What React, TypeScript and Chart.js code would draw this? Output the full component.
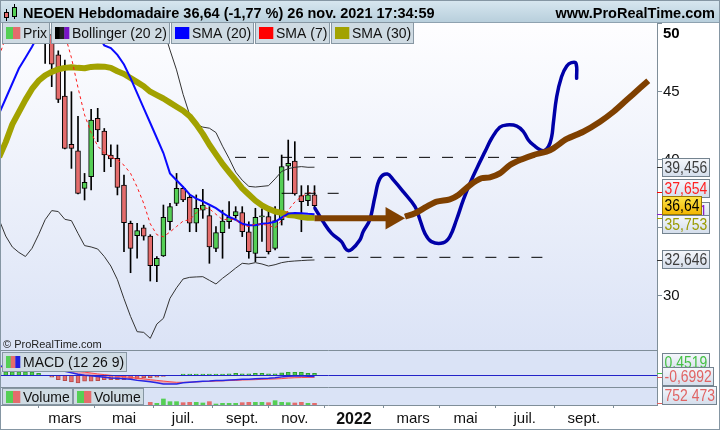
import React, { useEffect, useRef } from "react";
import { Chart, registerables } from "chart.js";

Chart.register(...registerables);

const W = 720;
const H = 430;
const FONT = '"Liberation Sans", Arial, Helvetica, sans-serif';
const NARROW_SCALE = 0.82;

const titleText = "NEOEN Hebdomadaire 36,64 (-1,77 %) 26 nov. 2021 17:34:59";
const siteText = "www.ProRealTime.com";
const copyrightText = "© ProRealTime.com";
const macdLegend = "MACD (12 26 9)";
const volumeLegend = "Volume";

// ---- x axis: week index (0 = week of 4 Jan 2021) ----
const monthTickWeeks = [0, 8, 17, 26, 35, 43, 52, 61, 69, 78, 87, 96];
const monthTickLabels = ["", "mars", "mai", "juil.", "sept.", "nov.", "2022", "mars", "mai", "juil.", "sept.", ""];
const priceTicks = [30, 35, 40, 45, 50];

// ---- weekly candles ----
const candleWeeks = [5, 6, 7, 8, 9, 10, 11, 12, 13, 14, 15, 16, 17, 18, 19, 20, 21, 22, 23, 24, 25, 26, 27, 28, 29, 30, 31, 32, 33, 34, 35, 36, 37, 38, 39, 40, 41, 42, 43, 44, 45, 46];
const opens = [50.5, 49.2, 47.7, 44.68, 41.14, 40.65, 37.9, 38.76, 43.05, 42.11, 40.35, 40.11, 38.15, 35.34, 34.43, 35.0, 34.4, 32.22, 32.94, 35.45, 36.8, 37.9, 37.25, 35.34, 36.31, 35.9, 33.5, 34.65, 35.45, 35.9, 36.13, 34.72, 33.13, 35.8, 35.83, 33.5, 35.58, 39.54, 39.9, 37.37, 37.0, 37.42];
const highs = [51.5, 49.6, 48.0, 47.33, 45.0, 43.2, 39.0, 43.7, 43.78, 42.3, 41.09, 41.09, 38.88, 35.5, 35.34, 35.2, 34.5, 32.9, 36.68, 36.8, 39.0, 38.03, 37.42, 37.42, 37.83, 36.56, 35.1, 36.3, 36.93, 36.56, 36.56, 35.45, 36.44, 36.4, 36.44, 36.56, 40.35, 41.45, 41.33, 38.1, 38.1, 38.1];
const lows = [47.08, 45.37, 44.2, 40.8, 39.37, 37.5, 37.05, 37.78, 41.33, 39.13, 39.5, 37.42, 33.25, 31.71, 32.77, 34.1, 31.1, 31.05, 32.9, 34.85, 36.63, 36.93, 34.72, 34.72, 35.7, 32.4, 33.25, 32.77, 34.97, 35.7, 34.36, 32.77, 32.52, 34.0, 33.08, 33.38, 35.21, 38.5, 37.4, 34.72, 36.63, 36.5];
const closes = [49.2, 47.03, 44.44, 40.84, 40.84, 37.54, 38.35, 42.92, 42.19, 40.35, 40.06, 37.98, 35.38, 33.5, 34.8, 34.4, 32.22, 32.77, 35.78, 36.56, 37.9, 37.05, 35.34, 36.44, 36.68, 33.6, 34.65, 35.5, 35.78, 36.2, 34.72, 33.25, 35.78, 35.88, 33.25, 35.53, 39.5, 39.74, 37.49, 36.93, 37.42, 36.64];

// ---- indicator lines (weeks -2 .. 46) ----
const lineWeeks = [-2, -1, 0, 1, 2, 3, 4, 5, 6, 7, 8, 9, 10, 11, 12, 13, 14, 15, 16, 17, 18, 19, 20, 21, 22, 23, 24, 25, 26, 27, 28, 29, 30, 31, 32, 33, 34, 35, 36, 37, 38, 39, 40, 41, 42, 43, 44, 45, 46];
const sma20 = [43.4, 44.5, 45.6, 46.7, 47.5, 48.3, 49.2, 49.8, 50.3, 50.7, 50.9, 51.0, 50.9, 50.6, 50.0, 49.2, 48.4, 48.2, 47.7, 47.0, 46.0, 44.9, 43.8, 42.7, 41.6, 40.5, 39.0, 38.5, 38.0, 37.45, 37.15, 36.95, 36.7, 36.45, 36.1, 35.8, 35.6, 35.3, 35.2, 35.2, 35.3, 35.35, 35.45, 35.75, 36.05, 36.1, 36.07, 36.03, 36.001];
const sma7 = [47.6, 49.0, 50.0, 51.0, 51.5, 52.0, 52.0, 51.5, 50.8, 50.0, 49.2, 47.5, 45.3, 43.3, 42.0, 41.0, 40.5, 40.2, 40.0, 39.6, 39.0, 38.0, 36.8, 35.3, 34.5, 34.35, 34.7, 35.1, 35.5, 35.6, 36.1, 36.5, 36.4, 36.0, 35.6, 35.65, 35.6, 35.2, 35.1, 35.3, 35.25, 35.2, 35.0, 35.55, 36.3, 36.9, 37.3, 37.55, 37.654];
const sma30 = [40.2, 41.3, 42.6, 43.5, 44.4, 45.2, 45.8, 46.2, 46.45, 46.65, 46.75, 46.8, 46.75, 46.72, 46.82, 46.85, 46.84, 46.75, 46.5, 46.3, 46.0, 45.7, 45.4, 45.0, 44.75, 44.5, 44.2, 43.9, 43.6, 43.2, 42.6, 41.9, 41.1, 40.4, 39.7, 39.1, 38.5, 37.9, 37.45, 37.0, 36.65, 36.4, 36.2, 36.1, 35.95, 35.9, 35.8, 35.75, 35.753];
const bbUpper = [null, null, null, null, null, null, null, null, null, null, null, null, null, null, null, null, null, null, null, null, null, null, null, null, 51.5, 49.6, 48.06, 46.6, 44.8, 43.3, 42.6, 42.4, 42.32, 42.0, 41.0, 40.1, 39.1, 38.5, 38.05, 38.0, 38.05, 38.1, 38.6, 39.15, 39.35, 39.45, 39.5, 39.45, 39.456];
const bbLower = [35.6, 34.4, 33.6, 33.2, 32.9, 33.5, 34.5, 35.6, 36.27, 36.2, 35.63, 35.53, 34.6, 33.7, 33.6, 33.45, 32.9, 32.2, 31.2, 29.8, 28.5, 27.38, 27.33, 26.89, 27.94, 28.36, 29.83, 30.6, 31.25, 31.37, 31.4, 31.42, 31.15, 30.88, 31.3, 31.66, 32.05, 32.4, 32.35, 32.45, 32.35, 32.2, 32.3, 32.45, 32.53, 32.57, 32.6, 32.63, 32.646];

// ---- MACD (weeks -2 .. 46) ----
const macdLine = [5.1, 5.3, 5.4, 5.4, 5.4, 5.2, 4.9, 4.4, 3.7, 3.0, 2.3, 1.4, 0.6, 0.0, -0.3, -0.7, -1.1, -1.5, -1.7, -2.0, -2.3, -2.9, -3.2, -3.7, -4.3, -4.9, -5.0, -4.9, -4.3, -4.0, -3.7, -3.4, -3.3, -3.0, -2.9, -2.7, -2.5, -2.3, -2.2, -2.0, -1.8, -1.7, -1.4, -0.9, -0.5, -0.4, -0.3, -0.5, -0.6992];
const macdSignal = [4.6, 4.9, 5.1, 5.2, 5.3, 5.3, 5.2, 5.0, 4.6, 4.1, 3.6, 3.0, 2.3, 1.8, 1.3, 0.8, 0.4, 0.0, -0.4, -0.8, -1.2, -1.6, -2.0, -2.5, -2.9, -3.3, -3.7, -4.0, -4.0, -3.9, -3.8, -3.6, -3.5, -3.3, -3.2, -3.0, -2.9, -2.7, -2.6, -2.5, -2.3, -2.2, -2.1, -1.9, -1.6, -1.4, -1.3, -1.2, -1.15];
const macdHist = [0.8, 0.8, 0.8, 0.78, 0.78, 0.75, 0.45, 0.0, -0.45, -0.98, -1.2, -1.52, -1.75, -1.36, -1.36, -1.2, -0.98, -0.98, -0.98, -0.98, -0.75, -0.75, -0.61, -0.61, -0.45, -0.23, -0.07, 0.0, 0.3, 0.3, 0.3, 0.3, 0.3, 0.3, 0.3, 0.33, 0.45, 0.35, 0.35, 0.45, 0.45, 0.35, 0.35, 0.57, 0.68, 0.68, 0.68, 0.45, 0.4519];

// ---- volume (visible weeks) ----
const volWeeks = [21, 22, 23, 24, 25, 26, 27, 28, 29, 30, 31, 32, 33, 34, 35, 36, 37, 38, 39, 40, 41, 42, 43, 44, 45, 46];
const volumes = [1180000, 740000, 2660000, 1480000, 1480000, 1030000, 1180000, 1180000, 890000, 1480000, 440000, 740000, 740000, 740000, 1030000, 1180000, 1180000, 1180000, 1030000, 1920000, 1180000, 1030000, 890000, 1180000, 740000, 752473];

// ---- hand-drawn annotations ----
const forecastW = [46.07, 47.3, 48.6, 50.1, 50.9, 51.66, 52.9, 53.4, 54.4, 55.2, 55.97, 57.1, 58.0, 59.5, 61.3, 62.06, 62.8, 63.8, 65.6, 66.6, 67.6, 68.65, 69.66, 70.7, 71.95, 72.97, 74.2, 75.25, 76.8, 77.8, 78.55, 79.3, 80.8, 81.6, 82.1, 82.35, 82.86, 83.6, 84.4, 85.1, 85.8, 85.9];
const forecastV = [36.44, 35.46, 34.6, 33.99, 33.38, 33.43, 34.11, 34.72, 35.58, 37.29, 38.64, 38.96, 38.52, 37.66, 36.56, 35.58, 34.6, 33.99, 33.91, 34.36, 35.58, 37.05, 38.27, 39.37, 40.6, 41.58, 42.39, 42.56, 42.48, 42.06, 41.45, 41.09, 40.67, 40.96, 41.7, 42.68, 44.63, 46.1, 46.89, 47.13, 47.08, 45.98];
const trendW = [59.77, 61.3, 63.07, 64.6, 66.6, 67.9, 69.7, 71.4, 72.7, 74.2, 75.75, 77.5, 79.3, 81.3, 82.35, 84.4, 86.9, 89.45, 91.5, 93.5, 95.5, 96.8];
const trendV = [35.82, 36.07, 36.56, 36.93, 37.1, 37.42, 38.15, 38.64, 38.71, 39.0, 39.62, 40.03, 40.35, 40.6, 40.84, 41.53, 42.06, 42.8, 43.53, 44.39, 45.25, 45.81];
const arrowW = [46, 57.8];
const arrowV = [35.705, 35.705];
const resistanceW = [33.9, 79.5];
const resistanceV = [40.18, 40.18];
const midLevelW = [41, 49.9];
const midLevelV = [37.54, 37.54];
const supportW = [37, 81.8];
const supportV = [32.84, 32.84];

// ---- colors ----
const GREEN = "#55cf55";
const RED = "#e46c6c";
const BROWN = "#7f4000";
const NAVY = "#0000a8";
const OLIVE = "#a2a200";
const GRID = "#7f8e99";

// ---- panel layout (pixels) ----
const MAIN_BOTTOM = 350;
const MACD_BOTTOM = 387;

const pts = (xs: number[], ys: (number | null)[]) => xs.map((x, i) => ({ x, y: ys[i] }));
const last = (a: any[]) => a[a.length - 1];
const fr = (v: number, d: number) => v.toFixed(d).replace(".", ",");
const frInt = (v: number) => String(Math.round(v)).replace(/\B(?=(\d{3})+(?!\d))/g, " ");

function legendBox(ctx: CanvasRenderingContext2D, x0: number, yTop: number, h: number, label: string, colors: string[], size = 14) {
  ctx.font = `${size}px ${FONT}`;
  const tw = ctx.measureText(label).width;
  const w = Math.round(21 + tw + 3);
  ctx.fillStyle = "#cfdbe3";
  ctx.fillRect(x0, yTop, w, h);
  ctx.strokeStyle = "#8797a3";
  ctx.lineWidth = 1;
  ctx.strokeRect(x0 + 0.5, yTop + 0.5, w - 1, h - 1);
  const sw = 14 / colors.length;
  const sy = yTop + Math.round((h - 12) / 2);
  colors.forEach((c, i) => {
    ctx.fillStyle = c;
    ctx.fillRect(x0 + 4 + i * sw, sy, sw + 0.3, 12);
  });
  ctx.fillStyle = "#111";
  ctx.textBaseline = "alphabetic";
  ctx.textAlign = "left";
  ctx.fillText(label, x0 + 21, yTop + h / 2 + 5);
  return x0 + w;
}

function valueBox(ctx: CanvasRenderingContext2D, cy: number, text: string, color: string, gold = false) {
  ctx.font = `17px ${FONT}`;
  const tw = ctx.measureText(text).width * NARROW_SCALE;
  const w = Math.round(tw + 5);
  const h = 19;
  const x = 662;
  const y = Math.round(cy - h / 2);
  const g = ctx.createLinearGradient(0, y, 0, y + h);
  if (gold) {
    g.addColorStop(0, "#ffe84a");
    g.addColorStop(1, "#f2b400");
  } else {
    g.addColorStop(0, "#f6f8fc");
    g.addColorStop(1, "#d3ddeb");
  }
  ctx.fillStyle = g;
  ctx.fillRect(x, y, w, h);
  ctx.strokeStyle = gold ? "#9c7a00" : "#74838f";
  ctx.lineWidth = 1;
  ctx.strokeRect(x + 0.5, y + 0.5, w - 1, h - 1);
  ctx.save();
  ctx.translate(x + 2.5, y + h / 2 + 1);
  ctx.scale(NARROW_SCALE, 1);
  ctx.fillStyle = color;
  ctx.textBaseline = "middle";
  ctx.textAlign = "left";
  ctx.fillText(text, 0, 0);
  ctx.restore();
  return { top: y, bottom: y + h };
}

function marker(ctx: CanvasRenderingContext2D, y: number, color: string) {
  ctx.strokeStyle = color;
  ctx.lineWidth = 1;
  ctx.beginPath();
  ctx.moveTo(657, Math.round(y) + 0.5);
  ctx.lineTo(662, Math.round(y) + 0.5);
  ctx.stroke();
}

const decorPlugin = {
  id: "decor",
  beforeDraw(chart: any) {
    const ctx = chart.ctx as CanvasRenderingContext2D;
    const a = chart.chartArea;
    ctx.save();
    ctx.fillStyle = "#ffffff";
    ctx.fillRect(0, 0, W, H);
    const g = ctx.createLinearGradient(0, a.top, 0, MAIN_BOTTOM);
    g.addColorStop(0, "#fefeff");
    g.addColorStop(1, "#dbe3f6");
    ctx.fillStyle = g;
    ctx.fillRect(0, a.top, a.right, MAIN_BOTTOM - a.top);
    ctx.fillStyle = "#dae3f6";
    ctx.fillRect(0, MAIN_BOTTOM, a.right, a.bottom - MAIN_BOTTOM);
    ctx.restore();
  },
  afterDatasetsDraw(chart: any) {
    const ctx = chart.ctx as CanvasRenderingContext2D;
    const a = chart.chartArea;
    const y0 = chart.scales.yMacd.getPixelForValue(0);
    ctx.save();
    ctx.strokeStyle = "#2323c8";
    ctx.lineWidth = 1;
    ctx.beginPath();
    ctx.moveTo(0, Math.round(y0) + 0.5);
    ctx.lineTo(a.right, Math.round(y0) + 0.5);
    ctx.stroke();
    ctx.restore();
  },
  afterDraw(chart: any) {
    const ctx = chart.ctx as CanvasRenderingContext2D;
    const a = chart.chartArea;
    const yP = chart.scales.y;
    const yM = chart.scales.yMacd;
    const yHs = chart.scales.yHist;
    const yV = chart.scales.yVol;
    ctx.save();

    // panel separators
    ctx.strokeStyle = GRID;
    ctx.lineWidth = 1;
    [MAIN_BOTTOM, MACD_BOTTOM, a.bottom].forEach((yy) => {
      ctx.beginPath();
      ctx.moveTo(0, yy + 0.5);
      ctx.lineTo(a.right, yy + 0.5);
      ctx.stroke();
    });

    // title bar
    const tg = ctx.createLinearGradient(0, 0, 0, 22);
    tg.addColorStop(0, "#d8e7f0");
    tg.addColorStop(1, "#b8cfdc");
    ctx.fillStyle = tg;
    ctx.fillRect(0, 0, W, 22);
    ctx.strokeStyle = "#8ea2b0";
    ctx.beginPath();
    ctx.moveTo(0, 22.5);
    ctx.lineTo(W, 22.5);
    ctx.stroke();
    // icon
    ctx.fillStyle = "#000";
    ctx.fillRect(6, 9, 1, 12);
    ctx.fillRect(14, 4, 1, 15);
    ctx.fillStyle = RED;
    ctx.fillRect(4, 12, 5, 6);
    ctx.strokeStyle = "#000";
    ctx.strokeRect(4.5, 12.5, 4, 5);
    ctx.fillStyle = GREEN;
    ctx.fillRect(12, 7, 5, 10);
    ctx.strokeRect(12.5, 7.5, 4, 9);
    ctx.fillStyle = "#000";
    ctx.font = `bold 14.5px ${FONT}`;
    ctx.textBaseline = "alphabetic";
    ctx.textAlign = "left";
    ctx.fillText(titleText, 23, 17.5);
    ctx.textAlign = "right";
    ctx.fillText(siteText, 715, 17.5);

    // price legend row
    let x0 = 2;
    const legendItems: [string, string[]][] = [
      ["Prix", [GREEN, RED]],
      ["Bollinger (20 2)", ["#000000", "#222222", "#7a14c8"]],
      ["SMA (20)", ["#0000ff"]],
      ["SMA (7)", ["#ff0000"]],
      ["SMA (30)", [OLIVE]],
    ];
    legendItems.forEach(([label, cols]) => {
      x0 = legendBox(ctx, x0, 22, 22, label, cols) + 1;
    });

    // copyright
    ctx.fillStyle = "#222";
    ctx.font = `11px ${FONT}`;
    ctx.textAlign = "left";
    ctx.textBaseline = "alphabetic";
    ctx.fillText(copyrightText, 3, 348);

    // MACD / volume legends
    legendBox(ctx, 2, 352, 20, macdLegend, [GREEN, RED, "#2020e0"]);
    const vx = legendBox(ctx, 2, MACD_BOTTOM + 1, a.bottom - MACD_BOTTOM - 1, volumeLegend, [GREEN, RED]);
    legendBox(ctx, vx, MACD_BOTTOM + 1, a.bottom - MACD_BOTTOM - 1, volumeLegend, [GREEN, RED]);

    // "50" top label
    ctx.fillStyle = "#000";
    ctx.font = `bold 15px ${FONT}`;
    ctx.textAlign = "left";
    ctx.textBaseline = "middle";
    ctx.fillText("50", 663, yP.getPixelForValue(50) + 10.5);

    // right value boxes (price panel)
    const closeY = yP.getPixelForValue(last(closes));
    const midY = yP.getPixelForValue(last(sma20));
    marker(ctx, midY, "#8a1fc9");
    valueBox(ctx, midY - 3, fr(last(sma20), 3), "#8a1fc9");
    const upY = yP.getPixelForValue(last(bbUpper));
    marker(ctx, upY, "#333");
    valueBox(ctx, upY, fr(last(bbUpper), 3), "#3c3c3c");
    const s7Y = yP.getPixelForValue(last(sma7));
    marker(ctx, s7Y, "#ff0000");
    valueBox(ctx, Math.min(s7Y, closeY - 17), fr(last(sma7), 3), "#ff2020");
    const loY = yP.getPixelForValue(last(bbLower));
    marker(ctx, loY, "#333");
    valueBox(ctx, loY, fr(last(bbLower), 3), "#3c3c3c");
    const s30Y = yP.getPixelForValue(last(sma30));
    marker(ctx, s30Y, OLIVE);
    valueBox(ctx, Math.max(s30Y, closeY + 18.5), fr(last(sma30), 3), "#9a9a00");
    valueBox(ctx, closeY, fr(last(closes), 2), "#000", true);

    // MACD / volume value boxes
    const mY = yM.getPixelForValue(last(macdLine));
    const hY = yHs.getPixelForValue(last(macdHist));
    marker(ctx, hY, "#40c040");
    marker(ctx, mY, "#e06060");
    valueBox(ctx, Math.min(hY, mY - 14), fr(last(macdHist), 4), "#45c045");
    valueBox(ctx, mY, fr(last(macdLine), 4), "#e06464");
    const vY = yV.getPixelForValue(last(volumes));
    marker(ctx, vY, "#e06060");
    valueBox(ctx, Math.min(vY, a.bottom - 9.5), frInt(last(volumes)), "#e06464");

    // frame
    ctx.strokeStyle = "#8596a3";
    ctx.lineWidth = 1;
    ctx.strokeRect(0.5, 0.5, W - 1, H - 1);
    ctx.restore();
  },
};

export default function App() {
  const ref = useRef<HTMLCanvasElement | null>(null);

  useEffect(() => {
    const canvas = ref.current;
    if (!canvas) return;

    const upCandle = candleWeeks.map((_, i) => closes[i] >= opens[i]);
    const bodyColors = upCandle.map((u) => (u ? GREEN : RED));
    const volColors = volWeeks.map((w) => (upCandle[candleWeeks.indexOf(w)] ? GREEN : RED));
    const histColors = macdHist.map((v) => (v >= 0 ? GREEN : RED));
    const histBorders = macdHist.map((v) => (v >= 0 ? "#2f9d2f" : "#b64a4a"));

    const line = (data: any[], color: string, width: number, extra: any = {}) => ({
      type: "line",
      data,
      yAxisID: "y",
      borderColor: color,
      borderWidth: width,
      pointRadius: 0,
      tension: 0,
      fill: false,
      ...extra,
    });

    const chart = new Chart(canvas, {
      type: "line",
      data: {
        datasets: [
          line(pts(arrowW, arrowV), BROWN, 6, {
            pointRadius: [0, 13],
            pointStyle: "triangle",
            pointRotation: 90,
            pointBackgroundColor: BROWN,
            pointBorderColor: BROWN,
            pointBorderWidth: 0,
            borderCapStyle: "butt",
          }),
          line(pts(trendW, trendV), BROWN, 6, { tension: 0.3, borderJoinStyle: "round", borderCapStyle: "butt" }),
          line(pts(forecastW, forecastV), NAVY, 3.5, { tension: 0.4, borderJoinStyle: "round", borderCapStyle: "round" }),
          line(pts(resistanceW, resistanceV), "#000", 1, { borderDash: [11, 12] }),
          line(pts(midLevelW, midLevelV), "#000", 1, { borderDash: [11, 12] }),
          line(pts(supportW, supportV), "#000", 1, { borderDash: [11, 12] }),
          line(pts(lineWeeks, sma7), "#ff1a1a", 1, { borderDash: [3, 3] }),
          line(pts(lineWeeks, sma20), "#0a0aff", 2),
          line(pts(lineWeeks, sma30), OLIVE, 6, { borderJoinStyle: "round" }),
          line(pts(lineWeeks, bbUpper), "#333", 1),
          line(pts(lineWeeks, bbLower), "#333", 1),
          {
            type: "bar",
            data: candleWeeks.map((w, i) => ({ x: w, y: [opens[i], closes[i]] })),
            yAxisID: "y",
            backgroundColor: bodyColors,
            borderColor: "#000",
            borderWidth: 1,
            borderSkipped: false,
            barThickness: 5,
            grouped: false,
          },
          {
            type: "bar",
            data: candleWeeks.map((w, i) => ({ x: w, y: [lows[i], highs[i]] })),
            yAxisID: "y",
            backgroundColor: "#000",
            borderWidth: 0,
            barThickness: 1,
            grouped: false,
          },
          {
            type: "line",
            data: pts(lineWeeks, macdLine),
            yAxisID: "yMacd",
            borderColor: "#2626e6",
            borderWidth: 1.5,
            pointRadius: 0,
            fill: false,
          },
          {
            type: "line",
            data: pts(lineWeeks, macdSignal),
            yAxisID: "yMacd",
            borderColor: "#ff4a4a",
            borderWidth: 1,
            pointRadius: 0,
            fill: "-1",
            backgroundColor: "rgba(236,120,130,0.55)",
          },
          {
            type: "bar",
            data: pts(lineWeeks, macdHist),
            yAxisID: "yHist",
            backgroundColor: histColors,
            borderColor: histBorders,
            borderWidth: 1,
            borderSkipped: false,
            barThickness: 4,
            grouped: false,
          },
          {
            type: "bar",
            data: pts(volWeeks, volumes),
            yAxisID: "yVol",
            backgroundColor: volColors,
            borderWidth: 0,
            barThickness: 4,
            grouped: false,
          },
        ] as any,
      },
      options: {
        responsive: false,
        animation: false,
        devicePixelRatio: 1,
        events: [],
        layout: { autoPadding: false, padding: { left: 1, top: 20, right: 0, bottom: 0 } },
        plugins: { legend: { display: false }, tooltip: { enabled: false } },
        scales: {
          x: {
            type: "linear",
            position: "bottom",
            min: -1.72,
            max: 98.13,
            offset: false,
            afterFit: (s: any) => {
              s.height = 25;
              s.paddingLeft = 0;
              s.paddingRight = 0;
            },
            afterBuildTicks: (s: any) => {
              s.ticks = monthTickWeeks.map((v) => ({ value: v }));
            },
            grid: { drawOnChartArea: false, drawTicks: true, tickLength: 3, color: GRID },
            border: { display: false },
            ticks: {
              autoSkip: false,
              maxRotation: 0,
              minRotation: 0,
              padding: 2,
              color: "#111",
              callback: (_v: any, i: number) => monthTickLabels[i],
              font: (c: any) =>
                monthTickLabels[c.index] === "2022"
                  ? { family: FONT, size: 16, weight: "bold" }
                  : { family: FONT, size: 15 },
            },
          },
          y: {
            type: "linear",
            position: "right",
            min: 21.997,
            max: 50.264,
            afterFit: (s: any) => {
              s.width = 63;
              s.paddingTop = 0;
              s.paddingBottom = 0;
            },
            afterBuildTicks: (s: any) => {
              s.ticks = priceTicks.map((v) => ({ value: v }));
            },
            grid: { drawOnChartArea: false, drawTicks: true, tickLength: 5, color: GRID },
            border: { display: true, color: GRID },
            ticks: {
              padding: 1,
              color: "#111",
              font: { family: FONT, size: 15 },
              callback: (v: any) => (v === 50 ? "" : String(v)),
            },
          },
          yMacd: { type: "linear", display: false, min: -16.97, max: 203.03 },
          yHist: { type: "linear", display: false, min: -6.75, max: 80.75 },
          yVol: { type: "linear", display: false, min: 0, max: 170555000 },
        },
      } as any,
      plugins: [decorPlugin as any],
    });

    return () => chart.destroy();
  }, []);

  return (
    <div style={{ position: "fixed", left: 0, top: 0, width: W, height: H, background: "#fff" }}>
      <canvas ref={ref} width={W} height={H} style={{ display: "block", width: W, height: H }} />
    </div>
  );
}
